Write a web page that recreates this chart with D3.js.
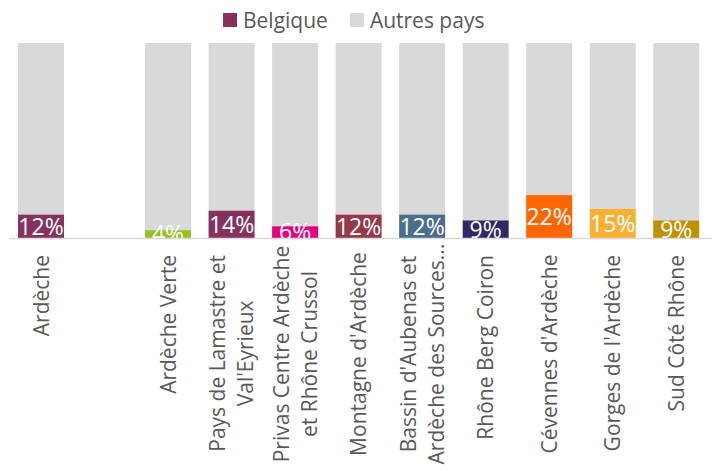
<!DOCTYPE html>
<html>
<head>
<meta charset="utf-8">
<script src="https://cdn.jsdelivr.net/npm/d3@7"></script>
<style>
  body { margin: 0; background: #fff; }
  text { font-family: "Open Sans", sans-serif; }
</style>
</head>
<body>
<script>
// chart data
const categories = ["Ardèche", "", "Ardèche Verte", "Pays de Lamastre et Val'Eyrieux",
    "Privas Centre Ardèche et Rhône Crussol", "Montagne d'Ardèche",
    "Bassin d'Aubenas et Ardèche des Sources", "Rhône Berg Coiron",
    "Cévennes d'Ardèche", "Gorges de l'Ardèche", "Sud Côté Rhône"];
const tickLabels = [["Ardèche"], [], ["Ardèche Verte"], ["Pays de Lamastre et", "Val'Eyrieux"],
    ["Privas Centre Ardèche", "et Rhône Crussol"], ["Montagne d'Ardèche"],
    ["Bassin d'Aubenas et", "Ardèche des Sources..."], ["Rhône Berg Coiron"],
    ["Cévennes d'Ardèche"], ["Gorges de l'Ardèche"], ["Sud Côté Rhône"]];
const belgique = [12, null, 4, 14, 6, 12, 12, 9, 22, 15, 9];
const autres = [88, null, 96, 86, 94, 88, 88, 91, 78, 85, 91];
const barColors = ["#86325f", null, "#95c11f", "#86325f", "#e5007d", "#963848",
    "#4a6e8c", "#312866", "#ff6600", "#f8b134", "#c39000"];
const seriesNames = ["Belgique", "Autres pays"];

const width = 712, height = 471;
const grey = "#d9d9d9", textCol = "#595959";

const svg = d3.select("body").append("svg")
    .attr("width", width)
    .attr("height", height);

const x = d3.scaleBand()
    .domain(categories)
    .range([9.25, 708])
    .paddingInner(0.276)
    .paddingOuter(0.138);

const y = d3.scaleLinear().domain([0, 100]).range([238, 43]);

const rows = categories.map((c, i) => ({cat: c, b: belgique[i], a: autres[i], col: barColors[i], i: i}))
    .filter(d => d.b != null);

// autres pays (top part)
svg.selectAll(".autres")
    .data(rows)
    .enter().append("rect")
    .attr("x", d => x(d.cat))
    .attr("width", x.bandwidth())
    .attr("y", d => y(d.b + d.a))
    .attr("height", d => y(d.b) - y(d.b + d.a))
    .attr("fill", grey);

// belgique (bottom part)
svg.selectAll(".belg")
    .data(rows)
    .enter().append("rect")
    .attr("x", d => x(d.cat))
    .attr("width", x.bandwidth())
    .attr("y", d => y(d.b))
    .attr("height", d => y(0) - y(d.b))
    .attr("fill", d => d.col);

svg.selectAll(".lbl")
    .data(rows)
    .enter().append("text")
    .attr("x", d => x(d.cat) + x.bandwidth() / 2)
    .attr("y", d => (y(0) + y(d.b)) / 2)
    .attr("dy", "0.36em")
    .attr("text-anchor", "middle")
    .attr("fill", "#fff")
    .style("font-size", "23px")
    .text(d => d.b + "%");

// cover the overflow under the axis
svg.append("rect")
    .attr("x", 0).attr("y", y(0)).attr("width", width).attr("height", 20)
    .attr("fill", "#fff");

svg.append("line")
    .attr("x1", 9).attr("x2", width)
    .attr("y1", y(0) + 0.5).attr("y2", y(0) + 0.5)
    .attr("stroke", grey)
    .attr("stroke-width", 1.5);

// category labels, rotated
const labTop = 255, maxLen = 198, lineGap = 28;
categories.forEach((c, i) => {
    const lines = tickLabels[i];
    if (!lines.length) return;
    const cx = x(c) + x.bandwidth() / 2;
    const g = svg.append("g");
    const nodes = lines.map((t, k) => g.append("text")
        .attr("fill", textCol)
        .style("font-size", "21px")
        .attr("dy", "0.36em")
        .attr("text-anchor", "middle")
        .text(t));
    const lens = nodes.map(n => n.node().getComputedTextLength());
    const block = Math.min(maxLen, d3.max(lens));
    nodes.forEach((n, k) => {
        const lx = cx + (k - (lines.length - 1) / 2) * lineGap;
        n.attr("transform", `translate(${lx},${labTop + block / 2}) rotate(-90)`);
    });
});

// legend
let lx = 223;
seriesNames.forEach((s, i) => {
    svg.append("rect")
        .attr("x", lx).attr("y", 13)
        .attr("width", 14).attr("height", 14)
        .attr("fill", i == 0 ? "#86325f" : grey);
    const t = svg.append("text")
        .attr("x", lx + 20).attr("y", 28)
        .attr("fill", textCol)
        .style("font-size", "21px")
        .text(s);
    lx += 20 + t.node().getComputedTextLength() + 22;
});
</script>
</body>
</html>
